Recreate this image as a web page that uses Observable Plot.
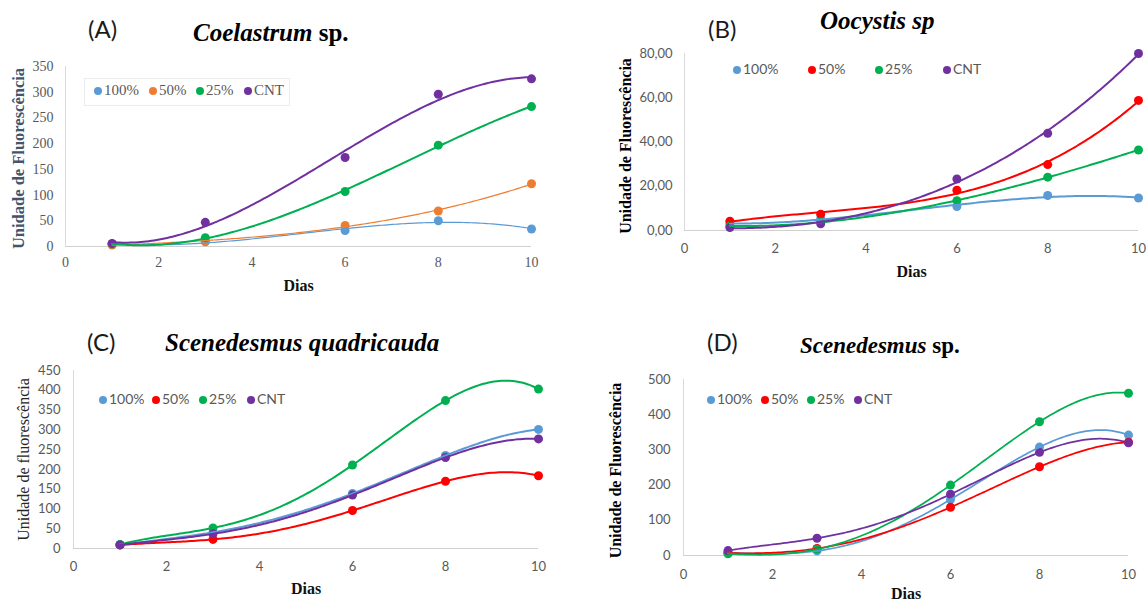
<!DOCTYPE html>
<html>
<head>
<meta charset="utf-8">
<script src="https://cdn.jsdelivr.net/npm/d3@7"></script>
<script src="https://cdn.jsdelivr.net/npm/@observablehq/plot@0.6"></script>
<style>
  body { margin: 0; background: #fff; }
  #page { position: relative; width: 1147px; height: 603px; overflow: hidden; background: #fff; }
  .abs { position: absolute; white-space: nowrap; line-height: 1; }
  .letter { font-family: Lato, "Open Sans", sans-serif; font-size: 24px; color: #1a1a1a; }
  .title { font-family: "Liberation Serif", "Times New Roman", serif; font-weight: bold; font-size: 25px; color: #000; }
  .title i { font-style: italic; }
  .chart { position: absolute; }
  .legend-box { position: absolute; border: 1px solid #ececec; }
  .legend-dot { position: absolute; border-radius: 50%; }
  .legend-text { position: absolute; white-space: nowrap; line-height: 1; color: #595959; }
  g[aria-label="wide-label"] text { word-spacing: 5px; }
</style>
</head>
<body>
<div id="page"></div>
<script>
// Sampling days
const days = [1, 3, 6, 8, 10];
const groups = ["100%", "50%", "25%", "CNT"];

// (A) Coelastrum sp.
const coelastrum100 = [5, 9, 31, 50, 34];
const coelastrum50 = [3, 10, 41, 69, 122];
const coelastrum25 = [5, 17, 107, 197, 272];
const coelastrumCNT = [6, 47, 173, 296, 326];
const coelastrumYTicks = [0, 50, 100, 150, 200, 250, 300, 350];

// (B) Oocystis sp
const oocystis100 = [3.0, 5.4, 10.8, 15.8, 14.7];
const oocystis50 = [4.2, 7.4, 18.2, 29.8, 58.8];
const oocystis25 = [2.0, 3.8, 13.5, 24.1, 36.4];
const oocystisCNT = [1.3, 3.0, 23.3, 43.9, 80.0];
const oocystisYTicks = [0, 20, 40, 60, 80];

// (C) Scenedesmus quadricauda
const quadricauda100 = [9, 41, 139, 235, 301];
const quadricauda50 = [9, 23, 96, 170, 184];
const quadricauda25 = [10, 52, 211, 374, 403];
const quadricaudaCNT = [9, 37, 135, 230, 277];
const quadricaudaYTicks = [0, 50, 100, 150, 200, 250, 300, 350, 400, 450];

// (D) Scenedesmus sp.
const scenedesmus100 = [8, 13, 159, 308, 342];
const scenedesmus50 = [7, 20, 137, 252, 322];
const scenedesmus25 = [5, 18, 200, 380, 461];
const scenedesmusCNT = [14, 49, 174, 293, 320];
const scenedesmusYTicks = [0, 100, 200, 300, 400, 500];

const xTicks = [0, 2, 4, 6, 8, 10];

const SERIF = "'Liberation Serif', 'Times New Roman', serif";
const SANS = "Lato, 'Open Sans', sans-serif";
const blue = "#5B9BD5", orange = "#ED7D31", red = "#FF0000", green = "#00B050", purple = "#7030A0";

// Polynomial trendline drawn as a d3-style curve (least squares; exact when order = n - 1)
function trendCurve(order) {
  return (context) => {
    let pts = [];
    return {
      areaStart() {}, areaEnd() {},
      lineStart() { pts = []; },
      point(x, y) { pts.push([+x, +y]); },
      lineEnd() {
        if (!pts.length) return;
        const x0 = pts[0][0], x1 = pts[pts.length - 1][0];
        const span = x1 - x0 || 1;
        const k = Math.min(order, pts.length - 1) + 1;
        const A = Array.from({length: k}, () => new Array(k + 1).fill(0));
        for (const [x, y] of pts) {
          const u = (x - x0) / span;
          const pw = [];
          for (let i = 0; i < k; ++i) pw.push(u ** i);
          for (let i = 0; i < k; ++i) {
            for (let j = 0; j < k; ++j) A[i][j] += pw[i] * pw[j];
            A[i][k] += pw[i] * y;
          }
        }
        for (let c = 0; c < k; ++c) {
          let p = c;
          for (let r = c + 1; r < k; ++r) if (Math.abs(A[r][c]) > Math.abs(A[p][c])) p = r;
          [A[c], A[p]] = [A[p], A[c]];
          for (let r = 0; r < k; ++r) if (r !== c) {
            const f = A[r][c] / A[c][c];
            for (let j = c; j <= k; ++j) A[r][j] -= f * A[c][j];
          }
        }
        const coef = A.map((row, i) => row[k] / row[i]);
        const steps = 160;
        for (let s = 0; s <= steps; ++s) {
          const u = s / steps;
          let y = 0;
          for (let i = k - 1; i >= 0; --i) y = y * u + coef[i];
          const x = x0 + u * span;
          s ? context.lineTo(x, y) : context.moveTo(x, y);
        }
      }
    };
  };
}

const panels = [
  {
    letter: "(A)", letterPos: [88, 17],
    title: "<i>Coelastrum</i> sp.", titlePos: [193, 20], titleSize: 25,
    box: {left: 0, top: 50, width: 560, height: 250},
    margin: {top: 16, right: 29, bottom: 54, left: 65},
    yMax: 350, yTicks: coelastrumYTicks, yFormat: (d) => String(d),
    values: [coelastrum100, coelastrum50, coelastrum25, coelastrumCNT],
    colors: [blue, orange, green, purple],
    widths: [1.2, 1.2, 2, 2],
    order: 3,
    tickFont: SERIF, tickSize: 14, xPad: 11, yPad: 12,
    xLabel: "Dias", xLabelDy: 39,
    yLabel: "Unidade de Fluorescência", yLabelDx: -47, yLabelDy: 2,
    yLabelFont: {fontFamily: SERIF, fontWeight: "bold", fontSize: 16.5, fill: "#44546A"},
    yLabelWide: false,
    legend: {dots: [98, 153, 200, 248], y: 91, font: SERIF, size: 15, box: [84, 78, 204, 26]}
  },
  {
    letter: "(B)", letterPos: [708, 17],
    title: "<i>Oocystis sp</i>", titlePos: [820, 8], titleSize: 25,
    box: {left: 580, top: 40, width: 567, height: 250},
    margin: {top: 13, right: 9, bottom: 60, left: 104},
    yMax: 80, yTicks: oocystisYTicks, yFormat: (d) => d.toFixed(2).replace(".", ","),
    values: [oocystis100, oocystis50, oocystis25, oocystisCNT],
    colors: [blue, red, green, purple],
    widths: [2, 2, 2, 2],
    order: 3,
    tickFont: SANS, tickSize: 13, xPad: 13, yPad: 12,
    xLabel: "Dias", xLabelDy: 41,
    yLabel: "Unidade de Fluorescência", yLabelDx: -59, yLabelDy: 4,
    yLabelFont: {fontFamily: SERIF, fontWeight: "bold", fontSize: 16, fill: "#000"},
    yLabelWide: true,
    legend: {dots: [737, 812, 879, 947], y: 70, font: SANS, size: 14}
  },
  {
    letter: "(C)", letterPos: [87, 330],
    title: "<i>Scenedesmus quadricauda</i>", titlePos: [165, 330], titleSize: 25,
    box: {left: 0, top: 355, width: 560, height: 248},
    margin: {top: 15, right: 22, bottom: 55, left: 73},
    yMax: 450, yTicks: quadricaudaYTicks, yFormat: (d) => String(d),
    values: [quadricauda100, quadricauda50, quadricauda25, quadricaudaCNT],
    colors: [blue, red, green, purple],
    widths: [2, 2, 2, 2],
    order: 4,
    tickFont: SANS, tickSize: 13, xPad: 13, yPad: 13,
    xLabel: "Dias", xLabelDy: 40,
    yLabel: "Unidade de fluorescência", yLabelDx: -50, yLabelDy: 0,
    yLabelFont: {fontFamily: SERIF, fontWeight: "normal", fontSize: 16, fill: "#262626"},
    yLabelWide: false,
    legend: {dots: [103, 156, 203, 251], y: 400, font: SANS, size: 14}
  },
  {
    letter: "(D)", letterPos: [707, 330],
    title: "<i>Scenedesmus</i> sp.", titlePos: [800, 334], titleSize: 23,
    box: {left: 580, top: 365, width: 567, height: 238},
    margin: {top: 14, right: 19, bottom: 48, left: 103},
    yMax: 500, yTicks: scenedesmusYTicks, yFormat: (d) => String(d),
    values: [scenedesmus100, scenedesmus50, scenedesmus25, scenedesmusCNT],
    colors: [blue, red, green, purple],
    widths: [1.75, 1.75, 1.75, 1.75],
    order: 4,
    tickFont: SANS, tickSize: 13, xPad: 14, yPad: 13,
    xLabel: "Dias", xLabelDy: 38,
    yLabel: "Unidade de Fluorescência", yLabelDx: -68, yLabelDy: 3,
    yLabelFont: {fontFamily: SERIF, fontWeight: "bold", fontSize: 16, fill: "#000"},
    yLabelWide: true,
    legend: {dots: [711, 765, 811, 858], y: 400, font: SANS, size: 14}
  }
];

const page = document.getElementById("page");

function addText(cls, html, left, top, size) {
  const el = document.createElement("div");
  el.className = "abs " + cls;
  el.style.left = left + "px";
  el.style.top = top + "px";
  if (size) el.style.fontSize = size + "px";
  el.innerHTML = html;
  page.appendChild(el);
}

function drawLegend(p) {
  const lg = p.legend;
  if (lg.box) {
    const b = document.createElement("div");
    b.className = "legend-box";
    Object.assign(b.style, {left: lg.box[0] + "px", top: lg.box[1] + "px", width: lg.box[2] + "px", height: lg.box[3] + "px"});
    page.appendChild(b);
  }
  const r = 4;
  groups.forEach((g, i) => {
    const d = document.createElement("div");
    d.className = "legend-dot";
    Object.assign(d.style, {
      left: (lg.dots[i] - r) + "px", top: (lg.y - r) + "px",
      width: 2 * r + "px", height: 2 * r + "px", background: p.colors[i]
    });
    page.appendChild(d);
    const t = document.createElement("div");
    t.className = "legend-text";
    Object.assign(t.style, {
      left: (lg.dots[i] + r + 2) + "px", top: (lg.y - lg.size * 0.55) + "px",
      fontFamily: lg.font, fontSize: lg.size + "px"
    });
    t.textContent = g;
    page.appendChild(t);
  });
}

function drawPanel(p) {
  addText("letter", p.letter, p.letterPos[0], p.letterPos[1]);
  addText("title", p.title, p.titlePos[0], p.titlePos[1], p.titleSize);

  const seriesMarks = [];
  p.values.forEach((vals, i) => {
    const rows = days.map((d, j) => ({day: d, value: vals[j], group: groups[i]}));
    seriesMarks.push(Plot.dot(rows, {x: "day", y: "value", r: 4.5, fill: p.colors[i], stroke: "none"}));
  });
  p.values.forEach((vals, i) => {
    const rows = days.map((d, j) => ({day: d, value: vals[j], group: groups[i]}));
    seriesMarks.push(Plot.line(rows, {x: "day", y: "value", stroke: p.colors[i], strokeWidth: p.widths[i], curve: trendCurve(p.order)}));
  });

  const chart = Plot.plot({
    width: p.box.width,
    height: p.box.height,
    marginTop: p.margin.top,
    marginRight: p.margin.right,
    marginBottom: p.margin.bottom,
    marginLeft: p.margin.left,
    style: {background: "transparent", overflow: "visible"},
    x: {domain: [0, 10]},
    y: {domain: [0, p.yMax]},
    marks: [
      Plot.ruleY([0], {stroke: "#d0d0d0", strokeWidth: 1}),
      Plot.ruleX([0], {y1: 0, y2: p.yMax, stroke: "#d9d9d9", strokeWidth: 1}),
      Plot.axisX({ticks: xTicks, tickSize: 0, tickPadding: p.xPad, label: null,
        fontFamily: p.tickFont, fontSize: p.tickSize, color: "#595959"}),
      Plot.axisY({ticks: p.yTicks, tickFormat: p.yFormat, tickSize: 0, tickPadding: p.yPad, label: null,
        fontFamily: p.tickFont, fontSize: p.tickSize, color: "#595959"}),
      ...seriesMarks,
      Plot.text([p.xLabel], {frameAnchor: "bottom", lineAnchor: "middle", textAnchor: "middle", dy: p.xLabelDy,
        fontFamily: SERIF, fontWeight: "bold", fontSize: 16, fill: "#111"}),
      Plot.text([p.yLabel], {frameAnchor: "left", rotate: -90, textAnchor: "middle", lineAnchor: "middle",
        dx: p.yLabelDx, dy: p.yLabelDy, ariaLabel: p.yLabelWide ? "wide-label" : "y-label", ...p.yLabelFont})
    ]
  });
  chart.classList.add("chart");
  chart.style.left = p.box.left + "px";
  chart.style.top = p.box.top + "px";
  page.appendChild(chart);
  drawLegend(p);
}

panels.forEach(drawPanel);
</script>
</body>
</html>
